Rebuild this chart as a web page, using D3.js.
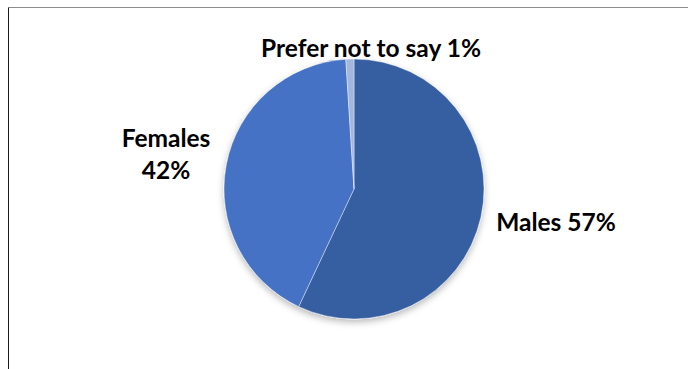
<!DOCTYPE html>
<html>
<head>
<meta charset="utf-8">
<script src="https://cdn.jsdelivr.net/npm/d3@7"></script>
<style>
  html, body { margin: 0; padding: 0; background: #fff; }
  svg { display: block; }
  text { font-family: Lato, "Open Sans", "Liberation Sans", sans-serif; font-weight: 700; fill: #000; }
</style>
</head>
<body>
<svg id="chart" width="688" height="369"></svg>
<script>
// Respondents by gender (percent)
const categories = ["Males", "Females", "Prefer not to say"];
const values = [57, 42, 1];
const colors = ["#355EA1", "#4472C4", "#A3B6DE"];

const W = 688, H = 369;
const svg = d3.select("#chart");

// chart area frame (top and left edges visible)
svg.append("line").attr("x1", 8.5).attr("x2", W).attr("y1", 7.5).attr("y2", 7.5)
  .attr("stroke", "#8c8c8c").attr("stroke-width", 1);
svg.append("line").attr("x1", 8.5).attr("x2", 8.5).attr("y1", 7.5).attr("y2", H)
  .attr("stroke", "#1a1a1a").attr("stroke-width", 1);

// soft shadow beneath the pie
const defs = svg.append("defs");
const f = defs.append("filter").attr("id", "shadow")
  .attr("x", "-20%").attr("y", "-20%").attr("width", "140%").attr("height", "140%");
f.append("feDropShadow").attr("dx", 0).attr("dy", 3).attr("stdDeviation", 3.5)
  .attr("flood-color", "#000").attr("flood-opacity", 0.28);

const cx = 354, cy = 189, r = 130;

const pie = d3.pie().sort(null).value(d => d.value);
const arc = d3.arc().innerRadius(0).outerRadius(r);
const data = categories.map((c, i) => ({ name: c, value: values[i], color: colors[i] }));
const arcs = pie(data);

const g = svg.append("g").attr("transform", `translate(${cx},${cy})`);
g.append("g").attr("filter", "url(#shadow)")
  .selectAll("path").data(arcs).join("path")
  .attr("d", arc)
  .attr("fill", d => d.data.color)
  .attr("stroke", "rgba(255,255,255,0.55)")
  .attr("stroke-width", 0.75);

// data labels: name and percentage
const fmt = v => v + "%";
const labels = [
  { lines: [categories[0] + " " + fmt(values[0])], x: 556, y: 231 },
  { lines: [categories[1], fmt(values[1])], x: 166, y: 147 },
  { lines: [categories[2] + " " + fmt(values[2])], x: 371, y: 57 }
];
const lt = svg.append("g").selectAll("text").data(labels).join("text")
  .attr("text-anchor", "middle")
  .attr("font-size", 24.5)
  .attr("x", d => d.x).attr("y", d => d.y);
lt.selectAll("tspan").data(d => d.lines.map((l, i) => ({ l, i, x: d.x }))).join("tspan")
  .attr("x", d => d.x)
  .attr("dy", d => d.i === 0 ? 0 : 32)
  .text(d => d.l);
</script>
</body>
</html>
